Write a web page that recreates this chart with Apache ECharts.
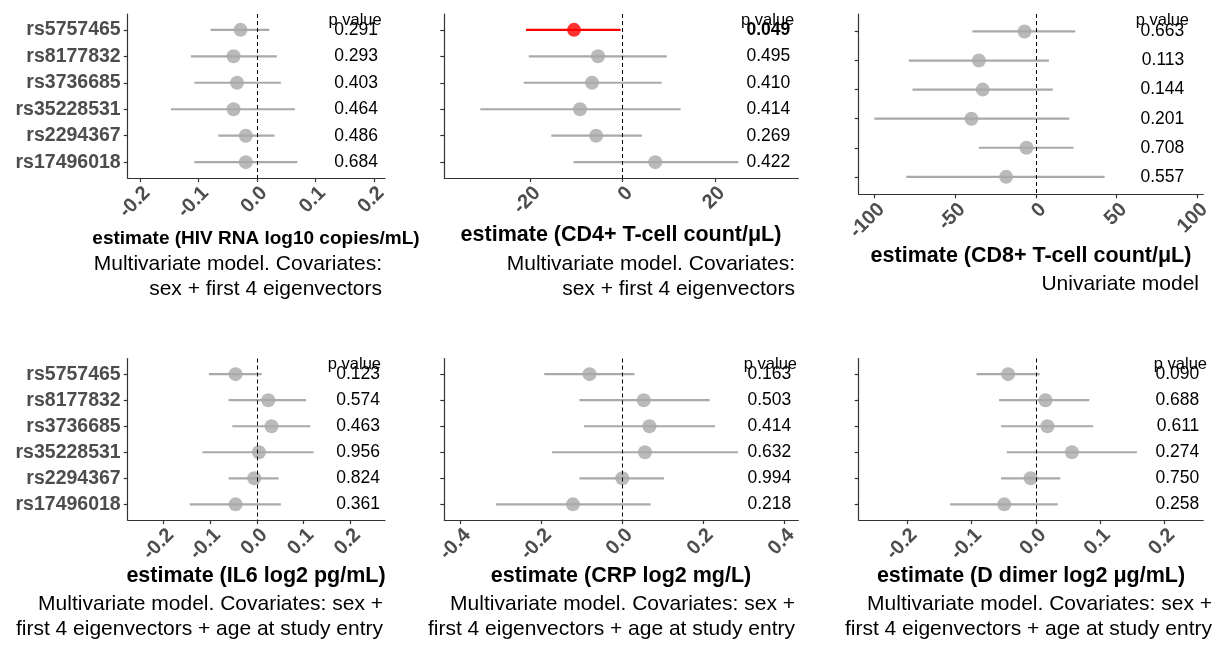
<!DOCTYPE html>
<html>
<head>
<meta charset="utf-8">
<script src="https://cdn.jsdelivr.net/npm/echarts@6/dist/echarts.min.js"></script>
<style>
html,body{margin:0;padding:0;background:#fff}
#main{width:1215px;height:645px}
</style>
</head>
<body>
<div id="main"></div>
<script>
// SNPs, top to bottom
var snps = ['rs5757465', 'rs8177832', 'rs3736685', 'rs35228531', 'rs2294367', 'rs17496018'];

// HIV RNA log10 copies/mL
var hivEst  = [-0.028, -0.040, -0.034, -0.040, -0.019, -0.019];
var hivLow  = [-0.079, -0.113, -0.107, -0.147, -0.066, -0.107];
var hivHigh = [0.021, 0.034, 0.041, 0.065, 0.030, 0.069];
var hivP    = ['0.291', '0.293', '0.403', '0.464', '0.486', '0.684'];

// CD4+ T-cell count/uL
var cd4Est  = [-10.5, -5.3, -6.6, -9.2, -5.7, 7.1];
var cd4Low  = [-20.9, -20.3, -21.4, -30.8, -15.4, -10.6];
var cd4High = [-0.4, 9.6, 8.5, 12.6, 4.2, 25.1];
var cd4P    = ['0.049', '0.495', '0.410', '0.414', '0.269', '0.422'];

// CD8+ T-cell count/uL
var cd8Est  = [-7.0, -35.3, -32.9, -39.9, -5.8, -18.4];
var cd8Low  = [-39.3, -78.7, -76.4, -100.0, -35.3, -80.2];
var cd8High = [24.4, 8.1, 10.5, 20.7, 23.3, 42.6];
var cd8P    = ['0.663', '0.113', '0.144', '0.201', '0.708', '0.557'];

// IL6 log2 pg/mL
var il6Est  = [-0.046, 0.024, 0.031, 0.004, -0.006, -0.046];
var il6Low  = [-0.103, -0.061, -0.053, -0.117, -0.061, -0.144];
var il6High = [0.010, 0.105, 0.114, 0.121, 0.046, 0.051];
var il6P    = ['0.123', '0.574', '0.463', '0.956', '0.824', '0.361'];

// CRP log2 mg/L
var crpEst  = [-0.081, 0.053, 0.067, 0.056, 0.000, -0.122];
var crpLow  = [-0.193, -0.106, -0.095, -0.174, -0.106, -0.312];
var crpHigh = [0.030, 0.216, 0.229, 0.286, 0.103, 0.070];
var crpP    = ['0.163', '0.503', '0.414', '0.632', '0.994', '0.218'];

// D dimer log2 ug/mL
var ddEst  = [-0.043, 0.015, 0.018, 0.056, -0.008, -0.049];
var ddLow  = [-0.092, -0.057, -0.054, -0.045, -0.054, -0.133];
var ddHigh = [0.006, 0.083, 0.089, 0.157, 0.038, 0.034];
var ddP    = ['0.090', '0.688', '0.611', '0.274', '0.750', '0.258'];

// x tick labels
var ticksSmall = [-0.2, -0.1, 0, 0.1, 0.2];
var ticksCD4 = [-20, 0, 20];
var ticksCD8 = [-100, -50, 0, 50, 100];
var ticksCRP = [-0.4, -0.2, 0, 0.2, 0.4];

var FONT = '"Liberation Sans", Arial, sans-serif';
var GREY = '#a9a9a9', RED = '#ff0000', AXIS = '#333333', LABEL = '#4d4d4d';

// box = [left, top, right, bottom] of each panel
var panels = [
  {est: hivEst, lo: hivLow, hi: hivHigh, p: hivP, ticks: ticksSmall, dec: 1, min: -0.221, max: 0.219,
   box: [127.7, 14, 385, 178], names: true, pRight: 7, pHead: [381.7, 20.5],
   title: 'estimate (HIV RNA log10 copies/mL)', tSize: 19, tPos: [256, 239],
   cap: 'Multivariate model. Covariates:\nsex + first 4 eigenvectors', cPos: [382, 251.5]},
  {est: cd4Est, lo: cd4Low, hi: cd4High, p: cd4P, ticks: ticksCD4, dec: 0, min: -38.6, max: 38.1,
   box: [444.3, 14, 798.3, 178], names: false, pRight: 8, pHead: [794.3, 20.5],
   title: 'estimate (CD4+ T-cell count/\u03bcL)', tSize: 21.5, tPos: [621, 235],
   cap: 'Multivariate model. Covariates:\nsex + first 4 eigenvectors', cPos: [795, 251.5]},
  {est: cd8Est, lo: cd8Low, hi: cd8High, p: cd8P, ticks: ticksCD8, dec: 0, min: -109.7, max: 103.7,
   box: [858.7, 14, 1203.3, 194.3], names: false, pRight: 19, pHead: [1189, 20.5],
   title: 'estimate (CD8+ T-cell count/\u03bcL)', tSize: 21.5, tPos: [1031, 256],
   cap: 'Univariate model', cPos: [1199, 271.5]},
  {est: il6Est, lo: il6Low, hi: il6High, p: il6P, ticks: ticksSmall, dec: 1, min: -0.277, max: 0.274,
   box: [127.7, 358.5, 385, 520], names: true, pRight: 5, pHead: [381, 364.5],
   title: 'estimate (IL6 log2 pg/mL)', tSize: 21.5, tPos: [256, 576],
   cap: 'Multivariate model. Covariates: sex +\nfirst 4 eigenvectors + age at study entry', cPos: [383, 591.5]},
  {est: crpEst, lo: crpLow, hi: crpHigh, p: crpP, ticks: ticksCRP, dec: 1, min: -0.44, max: 0.435,
   box: [444.3, 358.5, 798.3, 520], names: false, pRight: 7, pHead: [797, 364.5],
   title: 'estimate (CRP log2 mg/L)', tSize: 21.5, tPos: [621, 576],
   cap: 'Multivariate model. Covariates: sex +\nfirst 4 eigenvectors + age at study entry', cPos: [795, 591.5]},
  {est: ddEst, lo: ddLow, hi: ddHigh, p: ddP, ticks: ticksSmall, dec: 1, min: -0.275, max: 0.26,
   box: [858.7, 358.5, 1203.3, 520], names: false, pRight: 4, pHead: [1207, 364.5],
   title: 'estimate (D dimer log2 \u03bcg/mL)', tSize: 21.5, tPos: [1031, 576],
   cap: 'Multivariate model. Covariates: sex +\nfirst 4 eigenvectors + age at study entry', cPos: [1212, 591.5]}
];

var rows = snps.map(function (s, i) { return i + 1; });

var grid = [], xAxis = [], yAxis = [], series = [], graphic = [];

panels.forEach(function (pn, k) {
  var b = pn.box;
  grid.push({left: b[0], top: b[1], width: b[2] - b[0], height: b[3] - b[1], containLabel: false});

  xAxis.push({
    gridIndex: k, type: 'value', min: pn.min, max: pn.max,
    splitLine: {show: false},
    axisLine: {show: true, onZero: false, lineStyle: {color: AXIS, width: 1.2}},
    axisTick: {show: true, length: 4, customValues: pn.ticks, lineStyle: {color: AXIS, width: 1.2}},
    axisLabel: {
      customValues: pn.ticks, rotate: 45, margin: 5,
      align: 'right', verticalAlign: 'top',
      fontFamily: FONT, fontWeight: 'bold', fontSize: 20, color: LABEL,
      formatter: (function (d) { return function (v) { return Number(v).toFixed(d); }; })(pn.dec)
    }
  });

  // snp names on the left
  yAxis.push({
    gridIndex: k, type: 'value', inverse: true, min: 0.4, max: 6.6,
    splitLine: {show: false},
    axisLine: {show: true, onZero: false, lineStyle: {color: AXIS, width: 1.2}},
    axisTick: {show: true, length: 4, customValues: rows, lineStyle: {color: AXIS, width: 1.2}},
    axisLabel: {
      show: pn.names, customValues: rows, margin: 7,
      fontFamily: FONT, fontWeight: 'bold', fontSize: 19.5, color: LABEL,
      formatter: function (v) { return snps[Math.round(v) - 1]; }
    }
  });

  // p values on the right, inside the panel
  yAxis.push({
    gridIndex: k, type: 'value', inverse: true, min: 0.4, max: 6.6, position: 'right',
    splitLine: {show: false}, axisLine: {show: false}, axisTick: {show: false},
    axisLabel: {
      inside: true, customValues: rows, margin: pn.pRight,
      fontFamily: FONT, fontSize: 17.5, color: '#000',
      formatter: (function (pv) {
        return function (v) {
          var s = pv[Math.round(v) - 1];
          return parseFloat(s) < 0.05 ? '{b|' + s + '}' : s;
        };
      })(pn.p),
      rich: {b: {fontFamily: FONT, fontSize: 17.5, fontWeight: 'bold', color: '#000'}}
    }
  });

  var bars = [], pts = [];
  pn.est.forEach(function (e, i) {
    var col = parseFloat(pn.p[i]) < 0.05 ? RED : GREY;
    bars.push({value: [pn.lo[i], pn.hi[i], i + 1], itemStyle: {color: col}});
    pts.push({value: [e, i + 1], itemStyle: {color: col}});
  });

  series.push({
    type: 'custom', xAxisIndex: k, yAxisIndex: 2 * k, z: 2,
    encode: {x: [0, 1], y: 2},
    data: bars,
    renderItem: function (params, api) {
      var a = api.coord([api.value(0), api.value(2)]);
      var c = api.coord([api.value(1), api.value(2)]);
      return {type: 'line', shape: {x1: a[0], y1: a[1], x2: c[0], y2: c[1]},
              style: {stroke: api.visual('color'), lineWidth: 2.2}};
    },
    markLine: {
      silent: true, symbol: 'none', animation: false,
      label: {show: false},
      lineStyle: {type: [4, 3], color: '#000', width: 1},
      data: [{xAxis: 0}]
    }
  });
  series.push({
    type: 'scatter', xAxisIndex: k, yAxisIndex: 2 * k, z: 3,
    symbolSize: 14, data: pts
  });

  graphic.push({type: 'text', z: 10, style: {
    text: 'p value', x: pn.pHead[0], y: pn.pHead[1], align: 'right', verticalAlign: 'middle',
    textAlign: 'right', textVerticalAlign: 'middle',
    font: '16.5px ' + FONT, fill: '#000'}});
  graphic.push({type: 'text', style: {
    text: pn.title, x: pn.tPos[0], y: pn.tPos[1], align: 'center', verticalAlign: 'middle',
    textAlign: 'center', textVerticalAlign: 'middle',
    font: 'bold ' + pn.tSize + 'px ' + FONT, fill: '#000'}});
  graphic.push({type: 'text', style: {
    text: pn.cap, x: pn.cPos[0], y: pn.cPos[1], align: 'right', verticalAlign: 'top',
    textAlign: 'right', textVerticalAlign: 'top', lineHeight: 25,
    font: '21px ' + FONT, fill: '#000'}});
});

var myChart = echarts.init(document.getElementById('main'));
myChart.setOption({
  animation: false,
  backgroundColor: '#fff',
  grid: grid,
  xAxis: xAxis,
  yAxis: yAxis,
  series: series,
  graphic: graphic
});
</script>
</body>
</html>
